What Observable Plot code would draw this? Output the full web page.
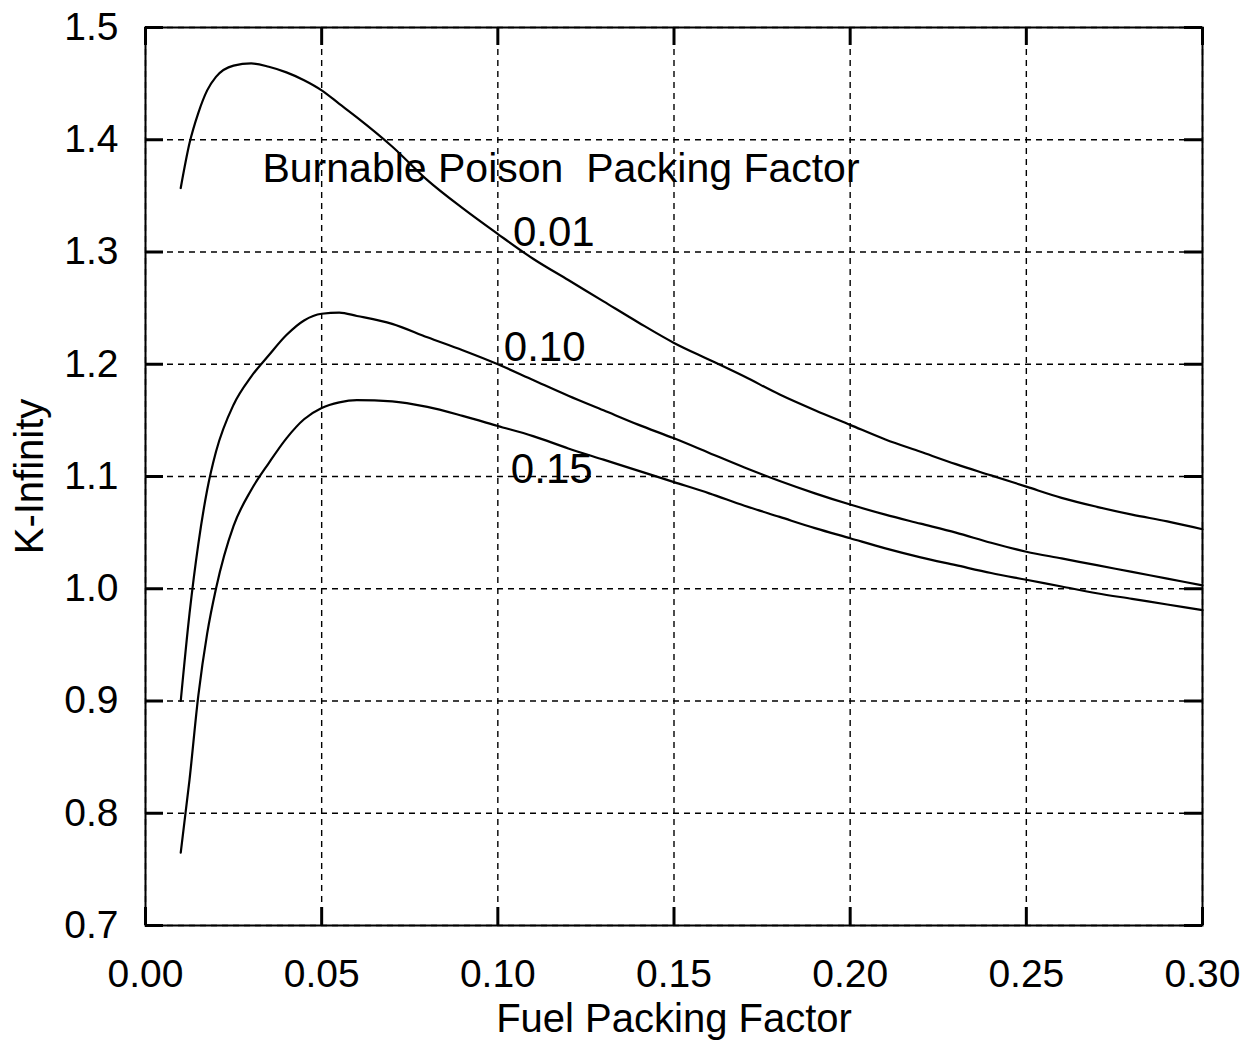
<!DOCTYPE html>
<html>
<head>
<meta charset="utf-8">
<script src="https://cdn.jsdelivr.net/npm/d3@7"></script>
<script src="https://cdn.jsdelivr.net/npm/@observablehq/plot@0.6"></script>
<style>
  html, body { margin: 0; padding: 0; background: #fff; }
</style>
</head>
<body>
<div id="chart"></div>
<script>
// Fuel packing factor (x)
const fuelPF = [0.010, 0.0125, 0.015, 0.0175, 0.02, 0.025, 0.03, 0.035, 0.04, 0.045, 0.05, 0.055, 0.06, 0.07, 0.08, 0.09,
  0.10, 0.11, 0.12, 0.13, 0.14, 0.15, 0.16, 0.17, 0.18, 0.19, 0.20, 0.21, 0.22, 0.23, 0.24, 0.25, 0.26, 0.27, 0.28, 0.29, 0.30];

// K-infinity for burnable poison packing factor 0.01
const kInf001 = [1.357, 1.397, 1.424, 1.444, 1.456, 1.466, 1.468, 1.465, 1.460, 1.453, 1.444, 1.432, 1.420, 1.394, 1.364, 1.339,
  1.316, 1.294, 1.275, 1.256, 1.237, 1.219, 1.204, 1.189, 1.173, 1.159, 1.146, 1.133, 1.122, 1.111, 1.101, 1.091, 1.081, 1.073, 1.066, 1.060, 1.053];
// 0.10
const kInf010 = [0.900, 0.978, 1.040, 1.088, 1.122, 1.164, 1.189, 1.208, 1.226, 1.239, 1.245, 1.246, 1.243, 1.236, 1.224, 1.2125,
  1.200, 1.186, 1.172, 1.159, 1.146, 1.134, 1.121, 1.108, 1.096, 1.085, 1.075, 1.066, 1.058, 1.050, 1.041, 1.033, 1.027, 1.021, 1.015, 1.009, 1.003];
// 0.15
const kInf015 = [0.765, 0.830, 0.905, 0.960, 1.000, 1.056, 1.088, 1.112, 1.134, 1.151, 1.161, 1.166, 1.168, 1.167, 1.162, 1.154,
  1.145, 1.136, 1.125, 1.115, 1.105, 1.095, 1.085, 1.074, 1.064, 1.054, 1.045, 1.036, 1.028, 1.021, 1.014, 1.008, 1.002, 0.996, 0.991, 0.986, 0.981];

const seriesNames = ["0.01", "0.10", "0.15"];
const xTicks = [0, 0.05, 0.10, 0.15, 0.20, 0.25, 0.30];
const yTicks = [0.7, 0.8, 0.9, 1.0, 1.1, 1.2, 1.3, 1.4, 1.5];

const xTitle = "Fuel Packing Factor";
const yTitle = "K-Infinity";
const annotation = "Burnable Poison\u00a0 Packing Factor";

const table = [];
[kInf001, kInf010, kInf015].forEach((arr, i) => {
  arr.forEach((k, j) => table.push({series: seriesNames[i], x: fuelPF[j], k}));
});

const W = 1257, H = 1047;
const mL = 145, mR = 55, mT = 27, mB = 122;
const plotW = W - mL - mR, plotH = H - mT - mB;
const tickLen = 18;
const gridStyle = {stroke: "black", strokeOpacity: 1, strokeWidth: 1.4, strokeDasharray: "6,5"};

const chart = Plot.plot({
  width: W,
  height: H,
  marginLeft: mL,
  marginRight: mR,
  marginTop: mT,
  marginBottom: mB,
  style: {fontFamily: "'Liberation Sans', Arial, sans-serif", fontSize: "39px", background: "white", color: "black"},
  x: {domain: [0, 0.30]},
  y: {domain: [0.7, 1.5]},
  marks: [
    Plot.gridX(xTicks, gridStyle),
    Plot.gridY(yTicks, gridStyle),
    // inward ticks on all four sides
    Plot.ruleX(xTicks, {x: d => d, insetTop: plotH - tickLen, stroke: "black", strokeWidth: 3}),
    Plot.ruleX(xTicks, {x: d => d, insetBottom: plotH - tickLen, stroke: "black", strokeWidth: 3}),
    Plot.ruleY(yTicks, {y: d => d, insetRight: plotW - tickLen, stroke: "black", strokeWidth: 3}),
    Plot.ruleY(yTicks, {y: d => d, insetLeft: plotW - tickLen, stroke: "black", strokeWidth: 3}),
    Plot.frame({stroke: "black", strokeWidth: 2}),
    Plot.line(table, {x: "x", y: "k", z: "series", stroke: "black", strokeWidth: 2.2, curve: "monotone-x"}),
    Plot.text([annotation], {x: 0.0332, y: 1.374, text: d => d, textAnchor: "start", fontSize: 41}),
    Plot.text([seriesNames[0]], {x: 0.1043, y: 1.317, text: d => d, textAnchor: "start", fontSize: 42}),
    Plot.text([seriesNames[1]], {x: 0.1017, y: 1.215, text: d => d, textAnchor: "start", fontSize: 42}),
    Plot.text([seriesNames[2]], {x: 0.1037, y: 1.106, text: d => d, textAnchor: "start", fontSize: 42}),
    Plot.axisX({ticks: xTicks, tickFormat: d => d.toFixed(2), tickSize: 0, tickPadding: 34, label: null, fontSize: 39}),
    Plot.axisY({ticks: yTicks, tickFormat: d => d.toFixed(1), tickSize: 0, tickPadding: 27, label: null, fontSize: 39}),
    Plot.text([xTitle], {frameAnchor: "bottom", dy: 106, text: d => d, fontSize: 40}),
    Plot.text([yTitle], {frameAnchor: "left", dx: -115, rotate: -90, textAnchor: "middle", text: d => d, fontSize: 40})
  ]
});

document.getElementById("chart").appendChild(chart);
</script>
</body>
</html>
